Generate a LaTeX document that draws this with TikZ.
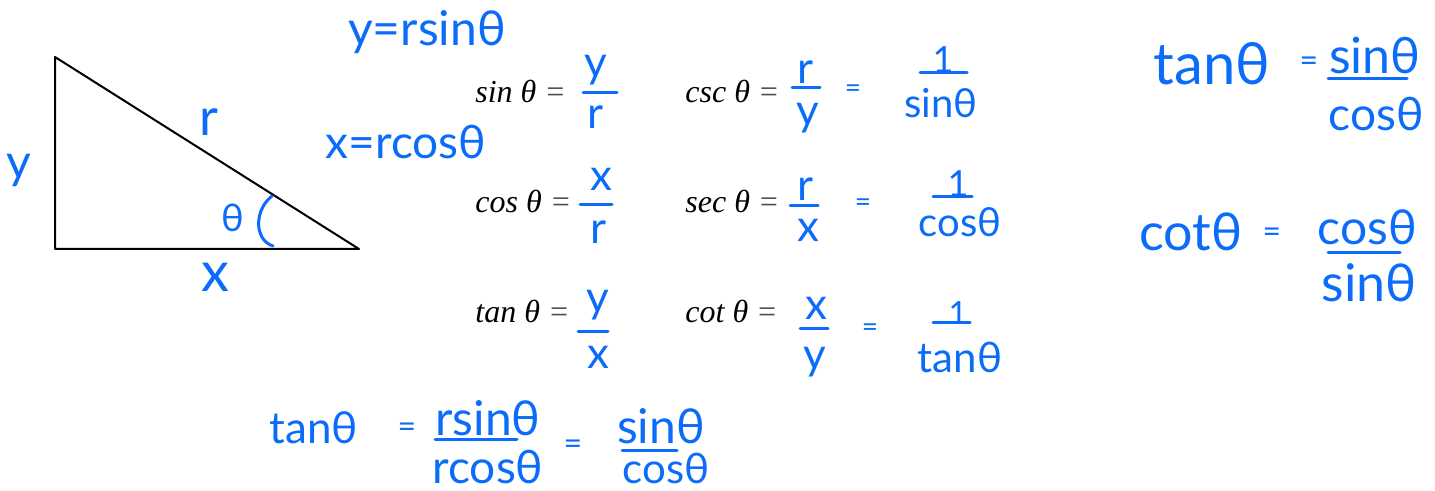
\documentclass[tikz,border=0pt]{standalone}
\usepackage{fontspec}
\setmainfont{Liberation Serif}
\newfontfamily\handfont{Lato}
\definecolor{ink}{RGB}{12,108,250}
\tikzset{
  hw/.style={text=ink, font=\handfont\fontsize{#1}{#1}\selectfont, inner sep=0pt},
  hw/.default=22,
  pr/.style={font=\itshape\fontsize{16}{18}\selectfont, anchor=base west, inner sep=0pt},
  bar/.style={ink, line width=1.5pt, line cap=round},
}
\newcommand{\preq}{\ {\color{black!70}=}}
\begin{document}
\begin{tikzpicture}[x=0.5pt,y=-0.5pt]
\useasboundingbox (0,0) rectangle (1435,491);

% triangle
\coordinate (tA) at (55,57);
\coordinate (tB) at (55,249);
\coordinate (tC) at (359,249);
\draw[line width=1pt, line join=round] (tA) -- (tB) -- (tC) -- cycle;
\draw[bar] (272,196) .. controls (254,210) and (254,240) .. (273,246);
\node[hw=24] (ly) at (19,170) {y};
\node[hw=26] (lr) at (209,122) {r};
\node[hw=19] (lt) at (233,218) {θ};
\node[hw=28] (lx) at (215,277) {x};
\node[hw=24] (ysin) at (427,32) {y=rsinθ};
\node[hw=23] (xcos) at (406,142) {x=rcosθ};

% printed definitions
\node[pr] (psin) at (475,103) {sin θ\preq};
\node[pr] (pcsc) at (685,103) {csc θ\preq};
\node[pr] (pcos) at (475,213) {cos θ\preq};
\node[pr] (psec) at (685,213) {sec θ\preq};
\node[pr] (ptan) at (475,323) {tan θ\preq};
\node[pr] (pcot) at (685,323) {cot θ\preq};

% row 1
\node[hw] (n1) at (596,70) {y};
\draw[bar] (583,93) -- (617,93);
\node[hw] (d1) at (596,117) {r};
\node[hw] (n2) at (805,72) {r};
\draw[bar] (792,88) -- (820,88);
\node[hw] (d2) at (808,118) {y};
\node[hw=14] (e2) at (853,91) {=};
\node[hw=18] (o2) at (943,60) {1};
\draw[bar] (920,73) -- (967,73);
\node[hw=20] (s2) at (941,103) {sinθ};

% row 2
\node[hw] (n3) at (601,179) {x};
\draw[bar] (580,205) -- (612,205);
\node[hw] (d3) at (599,232) {r};
\node[hw] (n4) at (805,189) {r};
\draw[bar] (790,206) -- (818,206);
\node[hw] (d4) at (808,230) {x};
\node[hw=14] (e4) at (863,205) {=};
\node[hw=18] (o4) at (958,184) {1};
\draw[bar] (933,197) -- (972,197);
\node[hw=20] (s4) at (960,222) {cosθ};

% row 3
\node[hw] (n5) at (598,305) {y};
\draw[bar] (578,332) -- (608,332);
\node[hw] (d5) at (598,357) {x};
\node[hw] (n6) at (816,308) {x};
\draw[bar] (800,329) -- (828,329);
\node[hw] (d6) at (815,362) {y};
\node[hw=14] (e6) at (870,330) {=};
\node[hw=16] (o6) at (958,313) {1};
\draw[bar] (933,323) -- (970,323);
\node[hw=21] (s6) at (960,357) {tanθ};

% right side
\node[hw=29] (rt) at (1212,64) {tanθ};
\node[hw=16] (re1) at (1309,64) {=};
\node[hw=25] (rs) at (1375,55) {sinθ};
\draw[bar] (1328,79) -- (1407,79);
\node[hw=23] (rc) at (1376,114) {cosθ};
\node[hw=26] (rk) at (1191,232) {cotθ};
\node[hw=16] (re2) at (1272,235) {=};
\node[hw=24] (rc2) at (1367,227) {cosθ};
\draw[bar] (1328,253) -- (1400,253);
\node[hw=26] (rs2) at (1369,283) {sinθ};

% bottom
\node[hw=22] (bt) at (314,428) {tanθ};
\node[hw=16] (be1) at (407,430) {=};
\node[hw=24] (bn) at (488,418) {rsinθ};
\draw[bar] (435,440) -- (517,440);
\node[hw=23,anchor=base] (bd) at (488,484) {rcosθ};
\node[hw=16] (be2) at (573,447) {=};
\node[hw=24] (bs) at (661,426) {sinθ};
\draw[bar] (622,451) -- (677,451);
\node[hw=21,anchor=base] (bc) at (666,484) {cosθ};
\end{tikzpicture}
\end{document}
